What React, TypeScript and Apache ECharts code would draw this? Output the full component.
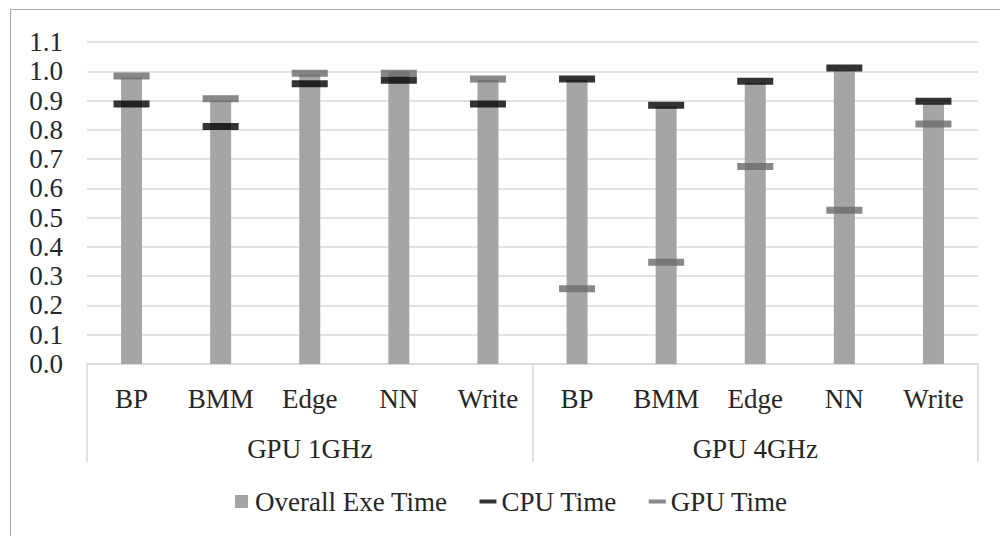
import React, { useEffect, useRef } from "react";
import * as echarts from "echarts";

const categories = ["BP", "BMM", "Edge", "NN", "Write", "BP", "BMM", "Edge", "NN", "Write"];
const groups = ["GPU 1GHz", "GPU 4GHz"];
const overallExeTime = [0.98, 0.9, 0.99, 1.0, 0.97, 0.97, 0.88, 0.96, 1.0, 0.89];
const cpuTime = [0.888, 0.811, 0.957, 0.969, 0.888, 0.974, 0.884, 0.966, 1.011, 0.898];
const gpuTime = [0.984, 0.906, 0.993, 0.993, 0.974, 0.257, 0.348, 0.675, 0.525, 0.82];
const seriesNames = ["Overall Exe Time", "CPU Time", "GPU Time"];

const FONT = "Tinos, 'Liberation Serif', 'Nimbus Roman', 'Noto Serif', 'DejaVu Serif', serif";
const TEXT = "#262626";
const GRID = "#d9d9d9";

export default function App() {
  const ref = useRef<HTMLDivElement>(null);
  useEffect(() => {
    if (!ref.current) return;
    const chart = echarts.init(ref.current, undefined, { renderer: "svg" });
    chart.setOption({
      animation: false,
      backgroundColor: "#ffffff",
      textStyle: { fontFamily: FONT, color: TEXT },
      graphic: [
        {
          type: "rect",
          shape: { x: 10.5, y: 9.5, width: 1000, height: 540 },
          style: { fill: "none", stroke: "#aaaaaa", lineWidth: 1 },
          silent: true,
        },
      ],
      grid: { left: 87, right: 22, top: 42, bottom: 172, containLabel: false },
      legend: {
        left: 230,
        top: 483,
        itemWidth: 17,
        itemHeight: 13,
        itemGap: 32,
        textStyle: { fontFamily: FONT, fontSize: 27, color: TEXT },
        data: [
          { name: seriesNames[0], icon: "path://M0,0h10v10h-10z" },
          { name: seriesNames[1], icon: "path://M0,0h17v4h-17z" },
          { name: seriesNames[2], icon: "path://M0,0h17v4h-17z" },
        ],
      },
      xAxis: [
        {
          type: "category",
          data: categories,
          position: "bottom",
          axisLine: { show: true, lineStyle: { color: GRID, width: 1.5 } },
          axisTick: { show: false },
          axisLabel: { fontFamily: FONT, fontSize: 27, color: TEXT, margin: 21, interval: 0 },
        },
        {
          type: "category",
          data: groups,
          position: "bottom",
          axisLine: { show: false },
          axisTick: { show: true, length: 98, lineStyle: { color: GRID, width: 1.5 } },
          axisLabel: { fontFamily: FONT, fontSize: 27, color: TEXT, margin: 71, interval: 0 },
        },
      ],
      yAxis: {
        type: "value",
        min: 0,
        max: 1.1,
        interval: 0.1,
        axisLine: { show: false },
        axisTick: { show: false },
        axisLabel: {
          fontFamily: FONT,
          fontSize: 27,
          color: TEXT,
          margin: 24,
          formatter: (v: number) => v.toFixed(1),
        },
        splitLine: { lineStyle: { color: GRID, width: 1.5 } },
      },
      series: [
        {
          name: seriesNames[0],
          type: "bar",
          data: overallExeTime,
          barWidth: 21,
          itemStyle: { color: "#a5a5a5" },
          z: 2,
        },
        {
          name: seriesNames[1],
          type: "scatter",
          data: cpuTime,
          symbol: "rect",
          symbolSize: [36, 7],
          itemStyle: { color: "#000000" },
          z: 4,
        },
        {
          name: seriesNames[2],
          type: "scatter",
          data: gpuTime,
          symbol: "rect",
          symbolSize: [36, 7],
          itemStyle: { color: "#6a6a6a" },
          z: 3,
        },
      ],
    });
    return () => chart.dispose();
  }, []);
  return (
    <div
      ref={ref}
      style={{ position: "fixed", left: 0, top: 0, width: 1000, height: 536 }}
    />
  );
}
